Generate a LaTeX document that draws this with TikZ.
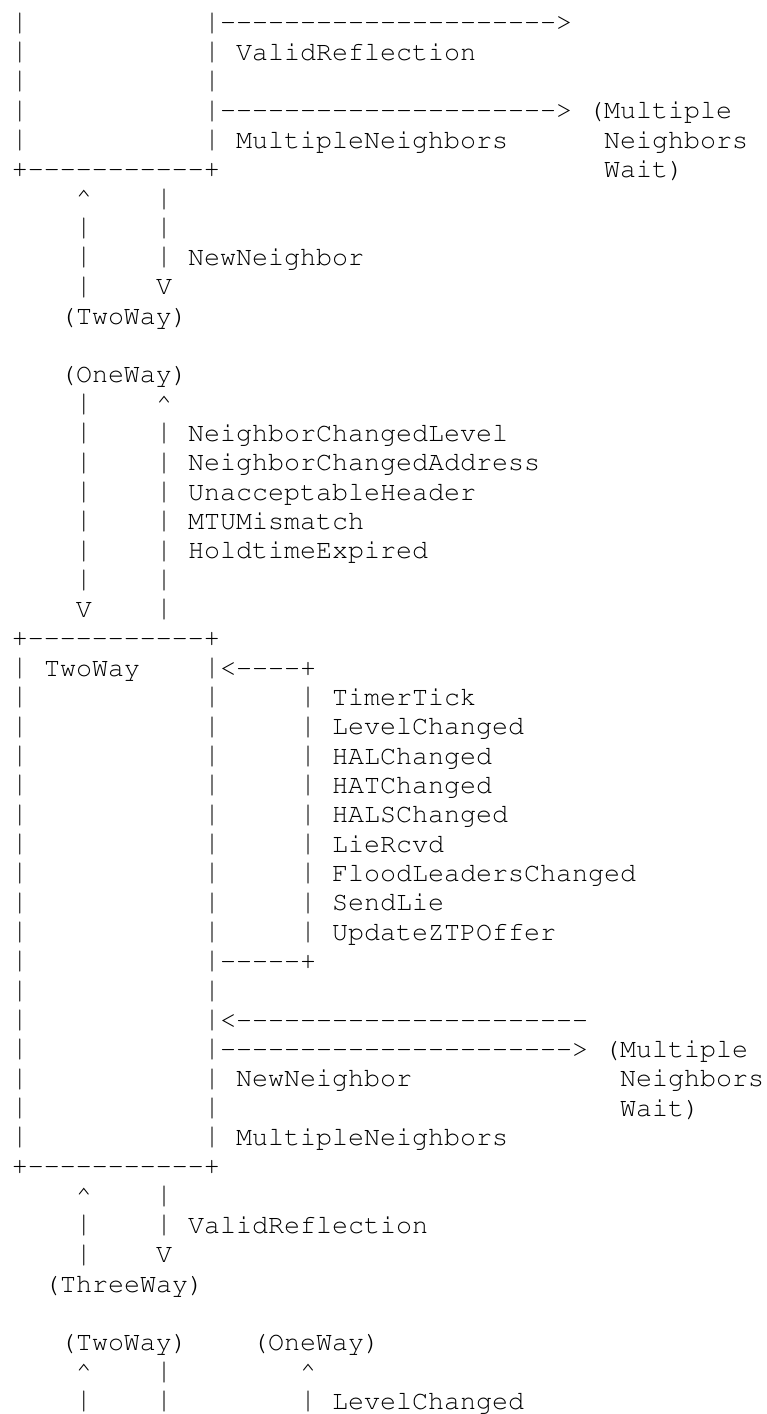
\documentclass[tikz,border=0pt]{standalone}
\usepackage[T1]{fontenc}
\usepackage{graphicx}
% a run of n separate hyphens (kept apart so no dash ligature can form)
\newcommand\dashrun[1]{\ifnum#1>0 -\kern0pt\relax\expandafter\dashrun\expandafter{\the\numexpr#1-1\relax}\fi}
% a vertical bar, slightly stretched so it fills more of its text line
\newcommand\tallbar{\raisebox{0.45pt}{\scalebox{1}[1.09]{|}}}
\begin{document}
\begin{tikzpicture}[x=12pt,y=-22pt,
  ascii/.style={font=\fontsize{20pt}{22pt}\fontfamily{pcr}\selectfont,
    inner sep=0pt, outer sep=0pt, anchor=base west, text=black}]
% page: one column = 12pt, one line = 22pt; origin = column 0, baseline of line 0
\fill[white] (-0.75,-1.04545) rectangle (47.1875,47.15909);
\useasboundingbox (-0.75,-1.04545) rectangle (47.1875,47.15909);

% ---------- lower part of the state above ----------
\foreach \n in {0,...,4}{
  \node[ascii] (topL\n) at (0,\n) {\tallbar};
  \node[ascii] (topR\n) at (12,\n) {\tallbar};
}
\node[ascii] (topBase) at (0,5) {+\dashrun{11}+};
\node[ascii] (arrValidTop) at (13,0) {\dashrun{21}>};
\node[ascii] (lblValidTop) at (14,1) {ValidReflection};
\node[ascii] (arrMultiTop) at (13,3) {\dashrun{21}>};
\node[ascii] (lblMultiTop) at (14,4) {MultipleNeighbors};
\node[ascii] (mnwTopA) at (36,3) {(Multiple};
\node[ascii] (mnwTopB) at (37,4) {Neighbors};
\node[ascii] (mnwTopC) at (37,5) {Wait)};

% ---------- NewNeighbor to TwoWay ----------
\node[ascii] (upAtip) at (4,6) {\textasciicircum};
\foreach \n in {7,8,9} \node[ascii] (upA\n) at (4,\n) {\tallbar};
\foreach \n in {6,7,8} \node[ascii] (dnA\n) at (9,\n) {\tallbar};
\node[ascii] (dnAtip) at (9,9) {V};
\node[ascii] (lblNewNb) at (11,8) {NewNeighbor};
\node[ascii] (tgtTwoWay) at (3,10) {(TwoWay)};

% ---------- OneWay events ----------
\node[ascii] (srcOneWay) at (3,12) {(OneWay)};
\foreach \n in {13,...,19} \node[ascii] (dnB\n) at (4,\n) {\tallbar};
\node[ascii] (dnBtip) at (4,20) {V};
\node[ascii] (upBtip) at (9,13) {\textasciicircum};
\foreach \n in {14,...,20} \node[ascii] (upB\n) at (9,\n) {\tallbar};
\foreach \t [count=\i from 14] in {NeighborChangedLevel,NeighborChangedAddress,UnacceptableHeader,MTUMismatch,HoldtimeExpired}
  \node[ascii] (lblOne\i) at (11,\i) {\t};

% ---------- TwoWay state ----------
\node[ascii] (twTop) at (0,21) {+\dashrun{11}+};
\foreach \n in {22,...,38}{
  \node[ascii] (twL\n) at (0,\n) {\tallbar};
  \node[ascii] (twR\n) at (12,\n) {\tallbar};
}
\node[ascii] (twTitle) at (2,22) {TwoWay};
\node[ascii] (loopIn) at (13,22) {<\dashrun{4}+};
\foreach \n in {23,...,31} \node[ascii] (loop\n) at (18,\n) {\tallbar};
\node[ascii] (loopOut) at (13,32) {\dashrun{5}+};
\foreach \t [count=\i from 23] in {TimerTick,LevelChanged,HALChanged,HATChanged,HALSChanged,LieRcvd,FloodLeadersChanged,SendLie,UpdateZTPOffer}
  \node[ascii] (lblLoop\i) at (20,\i) {\t};
\node[ascii] (arrBack) at (13,34) {<\dashrun{22}};
\node[ascii] (arrMultiLow) at (13,35) {\dashrun{22}>};
\node[ascii] (lblNewNbLow) at (14,36) {NewNeighbor};
\node[ascii] (lblMultiLow) at (14,38) {MultipleNeighbors};
\node[ascii] (mnwLowA) at (37,35) {(Multiple};
\node[ascii] (mnwLowB) at (38,36) {Neighbors};
\node[ascii] (mnwLowC) at (38,37) {Wait)};
\node[ascii] (twBase) at (0,39) {+\dashrun{11}+};

% ---------- ValidReflection to ThreeWay ----------
\node[ascii] (upCtip) at (4,40) {\textasciicircum};
\foreach \n in {41,42} \node[ascii] (upC\n) at (4,\n) {\tallbar};
\foreach \n in {40,41} \node[ascii] (dnC\n) at (9,\n) {\tallbar};
\node[ascii] (dnCtip) at (9,42) {V};
\node[ascii] (lblValidLow) at (11,41) {ValidReflection};
\node[ascii] (tgtThreeWay) at (2,43) {(ThreeWay)};

% ---------- next state, entries from TwoWay and to OneWay ----------
\node[ascii] (nxTwoWay) at (3,45) {(TwoWay)};
\node[ascii] (nxOneWay) at (15,45) {(OneWay)};
\node[ascii] (upDtip) at (4,46) {\textasciicircum};
\node[ascii] (upD47) at (4,47) {\tallbar};
\foreach \n in {46,47} \node[ascii] (dnD\n) at (9,\n) {\tallbar};
\node[ascii] (upEtip) at (18,46) {\textasciicircum};
\node[ascii] (upE47) at (18,47) {\tallbar};
\node[ascii] (lblLevelLow) at (20,47) {LevelChanged};
\end{tikzpicture}
\end{document}
